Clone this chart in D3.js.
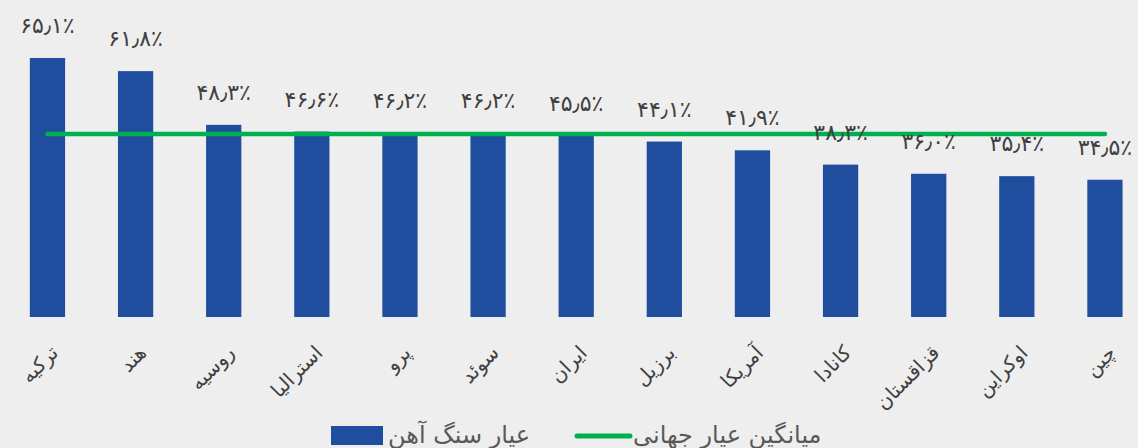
<!DOCTYPE html>
<html lang="fa">
<head>
    <meta charset="UTF-8">
    <title>عیار سنگ آهن</title>
    <script src="https://d3js.org/d3.v7.min.js"></script>
    <style>
        body { margin: 0; background: #eeeeee; }
        svg { display: block; font-family: "DejaVu Sans", sans-serif; }
        .val { fill: #404040; font-size: 22px; }
        .cat { fill: #404040; font-size: 20px; }
        .leg { fill: #595959; font-size: 24px; }
    </style>
</head>
<body>
<svg width="1138" height="448"></svg>
<script>
    // data
    var countries = ["ترکیه", "هند", "روسیه", "استرالیا", "پرو", "سوئد", "ایران", "برزیل", "آمریکا", "کانادا", "قزاقستان", "اوکراین", "چین"];
    var grade = [65.1, 61.8, 48.3, 46.6, 46.2, 46.2, 45.5, 44.1, 41.9, 38.3, 36.0, 35.4, 34.5];
    var worldAvg = [46, 46, 46, 46, 46, 46, 46, 46, 46, 46, 46, 46, 46];
    var legendNames = ["عیار سنگ آهن", "میانگین عیار جهانی"];

    var configuration = {
        "base_y": 317,
        "top_y": 38.5,
        "x_start": 3.4,
        "x_end": 1149,
        "label_gap": 25,
        "bar_color": "#1f4e9e",
        "line_color": "#00b050"
    };

    var svg = d3.select("svg");

    var persian = "۰۱۲۳۴۵۶۷۸۹";
    function fa(v) {
        var s = v.toFixed(1).replace(/\d/g, function (c) { return persian[+c]; });
        return s.replace(".", "٫") + "٪";
    }

    var xScale = d3.scaleBand()
        .domain(countries)
        .range([configuration.x_start, configuration.x_end])
        .paddingInner(0.6)
        .paddingOuter(0.3);

    var yScale = d3.scaleLinear()
        .domain([0, 70])
        .range([configuration.base_y, configuration.top_y]);

    var data = countries.map(function (c, i) {
        return {name: c, value: grade[i], avg: worldAvg[i]};
    });

    // bars
    svg.selectAll("rect.bar")
        .data(data)
        .enter()
        .append("rect")
        .attr("class", "bar")
        .attr("x", function (d) { return xScale(d.name); })
        .attr("y", function (d) { return yScale(d.value); })
        .attr("width", xScale.bandwidth())
        .attr("height", function (d) { return yScale(0) - yScale(d.value); })
        .attr("fill", configuration.bar_color);

    // average line
    var line = d3.line()
        .x(function (d) { return xScale(d.name) + xScale.bandwidth() / 2; })
        .y(function (d) { return yScale(d.avg); });

    svg.append("path")
        .datum(data)
        .attr("d", line)
        .attr("fill", "none")
        .attr("stroke", configuration.line_color)
        .attr("stroke-width", 4.5)
        .attr("stroke-linecap", "round");

    // value labels
    svg.selectAll("text.val")
        .data(data)
        .enter()
        .append("text")
        .attr("class", "val")
        .attr("direction", "ltr")
        .attr("text-anchor", "middle")
        .attr("x", function (d) { return xScale(d.name) + xScale.bandwidth() / 2; })
        .attr("y", function (d) { return yScale(d.value) - configuration.label_gap; })
        .text(function (d) { return fa(d.value); });

    // category labels
    svg.selectAll("text.cat")
        .data(data)
        .enter()
        .append("text")
        .attr("class", "cat")
        .attr("text-anchor", "end")
        .attr("transform", function (d) {
            var cx = xScale(d.name) + xScale.bandwidth() / 2;
            return "translate(" + (cx + 12) + ",354) rotate(-45)";
        })
        .text(function (d) { return d.name; });

    // legend
    var leg = svg.append("g");
    leg.append("rect")
        .attr("x", 331).attr("y", 426)
        .attr("width", 52).attr("height", 19)
        .attr("fill", configuration.bar_color);
    leg.append("text")
        .attr("class", "leg")
        .attr("x", 388).attr("y", 443)
        .attr("text-anchor", "start")
        .text(legendNames[0]);
    leg.append("line")
        .attr("x1", 577).attr("x2", 630)
        .attr("y1", 436).attr("y2", 436)
        .attr("stroke", configuration.line_color)
        .attr("stroke-width", 5)
        .attr("stroke-linecap", "round");
    leg.append("text")
        .attr("class", "leg")
        .attr("x", 633).attr("y", 443)
        .attr("text-anchor", "start")
        .text(legendNames[1]);
</script>
</body>
</html>
